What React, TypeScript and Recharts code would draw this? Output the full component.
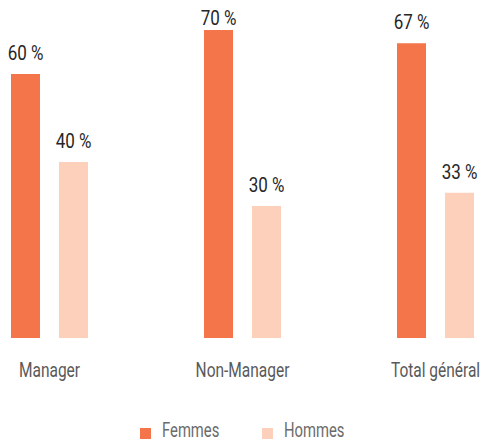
import React from "react";
import { BarChart, Bar, XAxis, YAxis, Legend, LabelList } from "recharts";

const categories = ["Manager", "Non-Manager", "Total général"];
const femmes = [60, 70, 67];
const hommes = [40, 30, 33];
const seriesNames = ["Femmes", "Hommes"];

const data = categories.map((c, i) => ({ name: c, Femmes: femmes[i], Hommes: hommes[i] }));

const FONT = 'Roboto, "Noto Sans", sans-serif';
const ORANGE = "#F4754A";
const PEACH = "#FDD0BC";

const fmt = (v: number) => `${v} %`;

const AxisTick = (props: any) => {
  const { x, y, payload } = props;
  return (
    <text
      transform={`translate(${x},${y + 14}) scale(0.775,1)`}
      textAnchor="middle"
      fill="#595959"
      fontSize={20}
      fontFamily={FONT}
    >
      {payload.value}
    </text>
  );
};

const ValueLabel = (props: any) => {
  const { x, y, width, value } = props;
  const ly = Math.max(y - 14, 25);
  return (
    <text
      transform={`translate(${x + width / 2},${ly}) scale(0.85,1)`}
      textAnchor="middle"
      fill="#262626"
      fontSize={20}
      fontFamily={FONT}
    >
      {fmt(value)}
    </text>
  );
};

const itemWidths = [122, 84];

const LegendContent = (props: any) => {
  const payload = props.payload || [];
  return (
    <div style={{ height: 30, display: "flex", justifyContent: "center", fontFamily: FONT, fontSize: 20, color: "#6b6b6b" }}>
      {payload.map((p: any, i: number) => (
        <div key={i} style={{ display: "flex", alignItems: "flex-start", width: itemWidths[i] ?? 90, whiteSpace: "nowrap" }}>
          <div style={{ width: 11, height: 11, background: p.color, marginTop: 16.5, marginRight: 11, flex: "none" }} />
          <div style={{ lineHeight: "20px", marginTop: 9, transform: "scaleX(0.74)", transformOrigin: "0 0" }}>{p.value}</div>
        </div>
      ))}
    </div>
  );
};

export default function App() {
  return (
    <div style={{ position: "absolute", left: 0, top: 0, width: 483, height: 441, overflow: "hidden", background: "#fff" }}>
      <div style={{ position: "absolute", left: -47, top: 0 }}>
        <BarChart
          width={579}
          height={441}
          data={data}
          margin={{ top: 30, right: 0, bottom: 0, left: 0 }}
          barSize={29}
          barGap={19}
        >
          <XAxis
            dataKey="name"
            axisLine={false}
            tickLine={false}
            height={73}
            tickMargin={19}
            tick={<AxisTick />}
            interval={0}
          />
          <YAxis hide domain={[0, 70]} />
          <Legend
            verticalAlign="bottom"
            content={<LegendContent />}
            wrapperStyle={{ bottom: 0, left: 0, width: 579 }}
          />
          <Bar dataKey="Femmes" name={seriesNames[0]} fill={ORANGE} isAnimationActive={false}>
            <LabelList dataKey="Femmes" content={<ValueLabel />} />
          </Bar>
          <Bar dataKey="Hommes" name={seriesNames[1]} fill={PEACH} isAnimationActive={false}>
            <LabelList dataKey="Hommes" content={<ValueLabel />} />
          </Bar>
        </BarChart>
      </div>
    </div>
  );
}
